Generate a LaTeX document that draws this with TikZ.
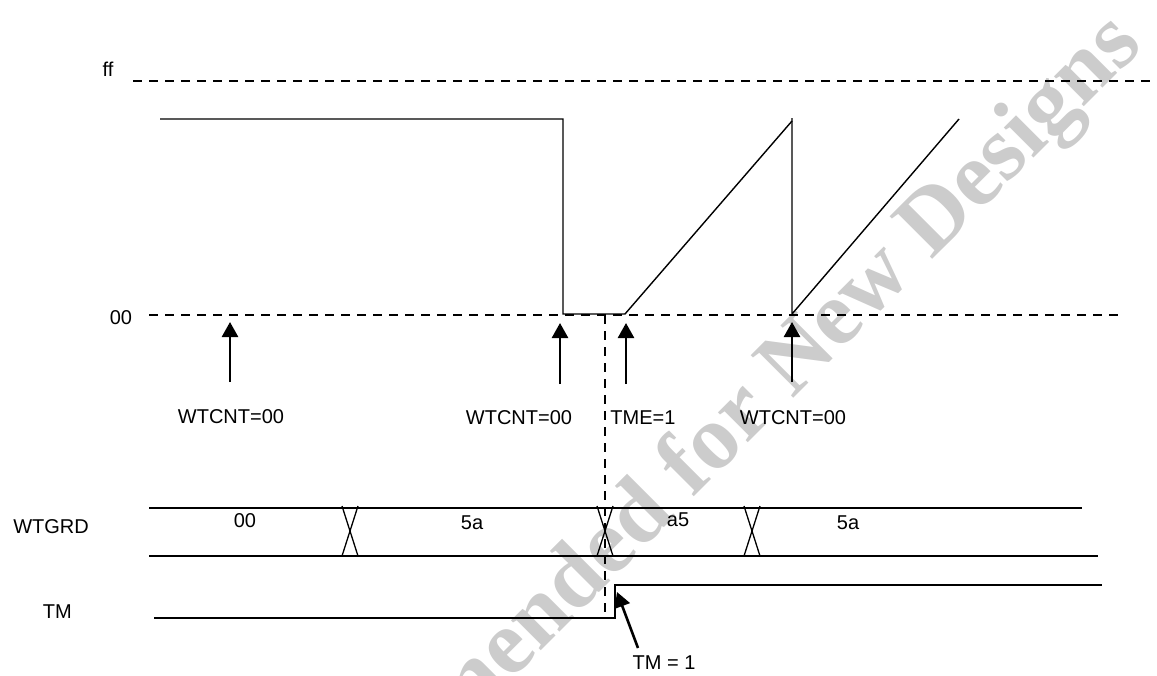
\documentclass[tikz,border=0pt]{standalone}
\usepackage{fontspec}
\setmainfont{Liberation Sans}
\newfontfamily\wmfont{Liberation Serif}
\usepackage{xcolor}
\definecolor{wmgray}{RGB}{204,204,204}
\usetikzlibrary{arrows.meta,positioning}

\begin{document}
\begin{tikzpicture}[x=1pt,y=-1pt,
    lbl/.style={inner sep=0pt,font=\fontsize{20}{24}\selectfont},
    lvl/.style={dash pattern=on 9pt off 7pt,line width=1.5pt},
    sig/.style={line width=1.9pt},
    ramp/.style={line width=1.4pt},
    xing/.style={line width=1.3pt},
    evt/.style={-{Triangle[length=15pt,width=16pt]},line width=2.6pt}]
  \useasboundingbox (0,0) rectangle (1157,675);
  % watermark
  \begin{scope}
    \clip (0,0) rectangle (1157,675);
    \node[wmgray,inner sep=0pt,rotate=45,
          font=\wmfont\bfseries\fontsize{92}{100}\selectfont]
          (wm) at (630,530) {Not Recommended for New Designs};
  \end{scope}

  % counter levels
  \node[lbl] (ff) at (108,69) {ff};
  \node[lbl] (zero) at (121,318) {00};
  \draw[lvl] (133,81) -- (1157,81);
  \draw[lvl] (149,315) -- (1123,315);

  % counter value
  \draw[ramp] (160,119) -- (563,119) -- (563,314) -- (625,314) -- (792,121);
  \draw[ramp] (792,118) -- (792,314) -- (959,119);

  % events
  \coordinate (tail1) at (230,382);
  \coordinate (tip1) at (230,322);
  \coordinate (tail2) at (560,384);
  \coordinate (tip2) at (560,323);
  \coordinate (tail3) at (626,384);
  \coordinate (tip3) at (626,323);
  \coordinate (tail4) at (792,382);
  \coordinate (tip4) at (792,322);
  \draw[evt] (tail1) -- (tip1);
  \draw[evt] (tail2) -- (tip2);
  \draw[evt] (tail3) -- (tip3);
  \draw[evt] (tail4) -- (tip4);
  \node[lbl] (cnt1) at (231,417) {WTCNT=00};
  \node[lbl] (cnt2) at (519,418) {WTCNT=00};
  \node[lbl] (tme) at (643,418) {TME=1};
  \node[lbl] (cnt3) at (793,418) {WTCNT=00};

  \draw[lvl] (605,315) -- (605,618);

  % WTGRD bus
  \node[lbl,anchor=east] (wtgrd) at (89,527) {WTGRD};
  \draw[sig] (149,508) -- (1082,508);
  \draw[sig] (149,556) -- (1098,556);
  \draw[xing] (342,506) -- (358,556) (358,506) -- (342,556);
  \draw[xing] (597,506) -- (613,556) (613,506) -- (597,556);
  \draw[xing] (744,506) -- (760,556) (760,506) -- (744,556);
  \node[lbl] (v1) at (245,521) {00};
  \node[lbl] (v2) at (472,523) {5a};
  \node[lbl] (v3) at (678,520) {a5};
  \node[lbl] (v4) at (848,523) {5a};

  % TM flag
  \node[lbl,anchor=east] (tm) at (72,612) {TM};
  \draw[sig] (154,618) -- (615,618) -- (615,585) -- (1102,585);
  \node[lbl] (tmset) at (664,663) {TM = 1};
  \coordinate (tmtail) at (638,648);
  \coordinate (tmtip) at (617,592);
  \draw[evt] (tmtail) -- (tmtip);
\end{tikzpicture}
\end{document}
